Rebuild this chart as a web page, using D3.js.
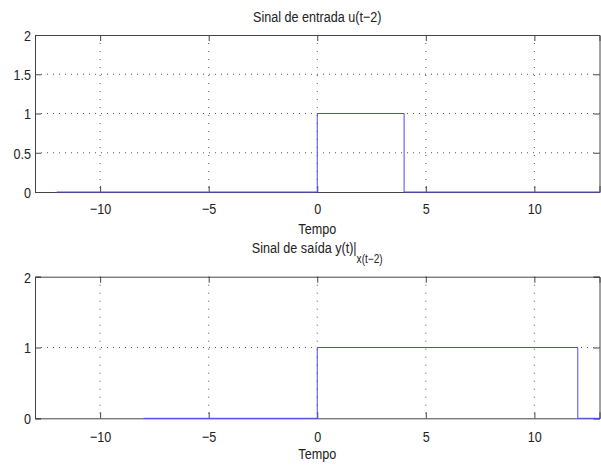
<!DOCTYPE html>
<html>
<head>
<meta charset="utf-8">
<script src="https://cdn.jsdelivr.net/npm/d3@7"></script>
<style>
  body { margin: 0; background: #fff; }
  text { font-family: "Liberation Sans", Arial, sans-serif; fill: #222; }
</style>
</head>
<body>
<script>
// Data for the two plots
var xTicks = [-10, -5, 0, 5, 10];
var yTicksTop = [0, 0.5, 1, 1.5, 2];
var yTicksBottom = [0, 1, 2];

// input signal u(t-2): step points
var inputT = [-12, 0, 0, 4, 4, 13];
var inputV = [0, 0, 1, 1, 0, 0];

// output signal y(t)
var outputT = [-8, 0, 0, 12, 12, 13];
var outputV = [0, 0, 1, 1, 0, 0];

var width = 601;
var height = 466;
var squeeze = 0.84; // narrow helvetica look

var svg = d3.select("body")
            .append("svg")
            .attr("width", width)
            .attr("height", height);

// shared x scale
var x = d3.scaleLinear().domain([-13, 13]).range([35, 599.5]);

// place a text at (px,py) squeezed horizontally
function narrowText(sel, px, py) {
    return sel.attr("x", 0).attr("y", 0)
        .attr("transform", "translate(" + px + "," + py + ") scale(" + squeeze + ",1)");
}

function drawPanel(top, bottom, yTicks, tArr, vArr, tickBase, labelBase) {
    var y = d3.scaleLinear().domain([0, 2]).range([bottom, top]);
    var g = svg.append("g");

    // grid lines (dotted)
    g.selectAll("line.gx")
        .data(xTicks)
        .enter()
        .append("line")
        .attr("x1", function(d) { return x(d); })
        .attr("x2", function(d) { return x(d); })
        .attr("y1", top)
        .attr("y2", bottom)
        .style("stroke", "#555")
        .style("stroke-width", 1)
        .style("stroke-dasharray", "1,7");

    g.selectAll("line.gy")
        .data(yTicks.filter(function(d) { return d > 0 && d < 2; }))
        .enter()
        .append("line")
        .attr("x1", x.range()[0])
        .attr("x2", x.range()[1])
        .attr("y1", function(d) { return y(d); })
        .attr("y2", function(d) { return y(d); })
        .style("stroke", "#555")
        .style("stroke-width", 1)
        .style("stroke-dasharray", "1,5");

    // axes with inside ticks on all four sides
    var axB = d3.axisBottom(x).tickValues(xTicks).tickSize(-6).tickFormat(function(d) { return d < 0 ? "\u2212" + Math.abs(d) : d; });
    var axT = d3.axisTop(x).tickValues(xTicks).tickSize(-6).tickFormat("");
    var axL = d3.axisLeft(y).tickValues(yTicks).tickSize(-6).tickFormat(function(d) { return d; });
    var axR = d3.axisRight(y).tickValues(yTicks).tickSize(-6).tickFormat("");

    var gb = g.append("g").attr("transform", "translate(0," + bottom + ")").call(axB);
    var gt = g.append("g").attr("transform", "translate(0," + top + ")").call(axT);
    var gl = g.append("g").attr("transform", "translate(" + x.range()[0] + ",0)").call(axL);
    var gr = g.append("g").attr("transform", "translate(" + x.range()[1] + ",0)").call(axR);

    [gb, gt, gl, gr].forEach(function(a) {
        a.attr("font-family", null).attr("font-size", null);
        a.selectAll("path").style("stroke", "#444").style("stroke-width", 1);
        a.selectAll("line").style("stroke", "#444");
        a.selectAll("text").style("font-size", "15px").style("fill", "#222");
    });
    gb.selectAll("text").attr("dy", null).each(function() {
        narrowText(d3.select(this), 0, tickBase - bottom);
    });
    gl.selectAll("text").attr("dy", "0.36em").each(function() {
        narrowText(d3.select(this), -4, 0);
    });

    // signal
    var pts = tArr.map(function(t, i) { return [t, vArr[i]]; });
    var line = d3.line()
        .x(function(d) { return x(d[0]); })
        .y(function(d) { return y(d[1]); });
    g.append("path")
        .attr("d", line(pts))
        .style("fill", "none")
        .style("stroke", "#4a4aff")
        .style("stroke-width", 1);

    // x label
    narrowText(g.append("text"), x(0), labelBase)
        .attr("text-anchor", "middle")
        .style("font-size", "15px")
        .text("Tempo");
}

drawPanel(35, 192, yTicksTop, inputT, inputV, 214, 234);
drawPanel(276.7, 418.3, yTicksBottom, outputT, outputV, 442, 459);

// titles
narrowText(svg.append("text"), x(0), 22)
    .attr("text-anchor", "middle")
    .style("font-size", "15px")
    .text("Sinal de entrada u(t\u22122)");

var t2 = narrowText(svg.append("text"), x(0), 253)
    .attr("text-anchor", "middle")
    .style("font-size", "15px");
t2.append("tspan").text("Sinal de sa\u00edda y(t)|");
t2.append("tspan").attr("dy", 10).style("font-size", "12px").text("x(t\u22122)");
</script>
</body>
</html>
